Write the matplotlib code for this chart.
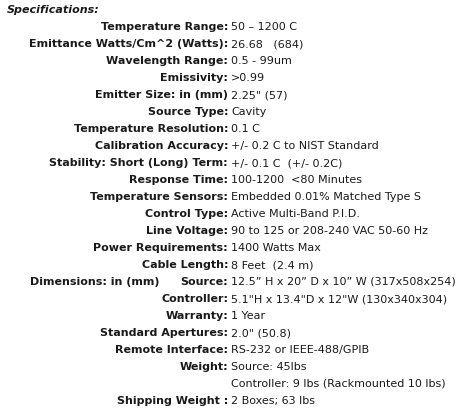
import matplotlib.pyplot as plt

W, H = 461, 417

title = "Specifications:"
labels = [
    "Temperature Range:", "Emittance Watts/Cm^2 (Watts):", "Wavelength Range:",
    "Emissivity:", "Emitter Size: in (mm)", "Source Type:", "Temperature Resolution:",
    "Calibration Accuracy:", "Stability: Short (Long) Term:", "Response Time:",
    "Temperature Sensors:", "Control Type:", "Line Voltage:", "Power Requirements:",
    "Cable Length:", "Source:", "Controller:", "Warranty:", "Standard Apertures:",
    "Remote Interface:", "Weight:", "", "Shipping Weight :",
]
values = [
    "50 \u2013 1200 C", "26.68   (684)", "0.5 - 99um", ">0.99", "2.25\" (57)", "Cavity",
    "0.1 C", "+/- 0.2 C to NIST Standard", "+/- 0.1 C  (+/- 0.2C)",
    "100-1200  <80 Minutes", "Embedded 0.01% Matched Type S",
    "Active Multi-Band P.I.D.", "90 to 125 or 208-240 VAC 50-60 Hz",
    "1400 Watts Max", "8 Feet  (2.4 m)",
    "12.5\u201d H x 20\u201d D x 10\u201d W (317x508x254)",
    "5.1\"H x 13.4\"D x 12\"W (130x340x304)", "1 Year", "2.0\" (50.8)",
    "RS-232 or IEEE-488/GPIB", "Source: 45lbs",
    "Controller: 9 lbs (Rackmounted 10 lbs)", "2 Boxes; 63 lbs",
]
extra_label = "Dimensions: in (mm)"

fig = plt.figure(figsize=(W / 100, H / 100), dpi=100)
fig.patch.set_facecolor("white")
ax = fig.add_axes([0, 0, 1, 1])
ax.set_xlim(0, W)
ax.set_ylim(H, 0)
ax.axis("off")

c = "#1a1a1a"
fs = 8
ax.text(7, 10, title, fontsize=fs, fontweight="bold", style="italic", color=c, va="center")
for i, (lab, val) in enumerate(zip(labels, values)):
    y = 27 + 17 * i
    if lab:
        ax.text(228, y, lab, fontsize=fs, fontweight="bold", color=c, ha="right", va="center")
    ax.text(231, y, val, fontsize=fs, color=c, ha="left", va="center")
ax.text(30, 27 + 17 * 15, extra_label, fontsize=fs, fontweight="bold", color=c, va="center")

fig.savefig("out.png", dpi=100)
